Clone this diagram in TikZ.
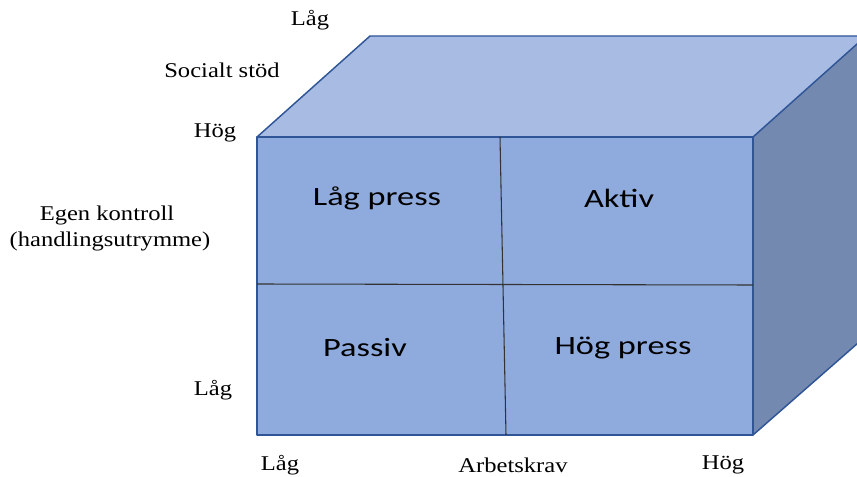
\documentclass[tikz,border=0pt]{standalone}
\usepackage{fontspec}
\setmainfont{Liberation Serif}[FakeStretch=1.17]
\newfontfamily\boxfont{Carlito}[FakeStretch=1.3]
\usepackage{xcolor}
\usepackage{tikz}
\usetikzlibrary{calc}

\definecolor{frontblue}{HTML}{8FAADC}
\definecolor{topblue}{HTML}{A7BBE3}
\definecolor{sideblue}{HTML}{7489B0}
\definecolor{edgeblue}{HTML}{2F5597}

\tikzset{
  axislabel/.style={font=\fontsize{15.75}{17}\selectfont, inner sep=0pt},
  celllabel/.style={font=\boxfont\fontsize{19.8}{22}\selectfont, inner sep=0pt},
  cubeedge/.style={draw=edgeblue, line width=1.1pt, line join=round}
}

\begin{document}
\begin{tikzpicture}[x=0.75pt,y=-0.75pt]
\useasboundingbox (0,0) rectangle (857,477);
\clip (0,0) rectangle (857,477);

% Cube faces
\fill[topblue] (257,137) -- (370,36) -- (866,36) -- (753,137) -- cycle;
\fill[sideblue] (753,137) -- (866,36) -- (866,336) -- (753,435) -- cycle;
\fill[frontblue] (257,137) rectangle (753,435);
\draw[cubeedge] (257,137) -- (370,36) -- (866,36);
\draw[cubeedge] (753,137) -- (866,36);
\draw[cubeedge] (753,435) -- (866,336);
\draw[cubeedge] (257,137) rectangle (753,435);

% Quadrant dividers
\draw[black!80, line width=0.8pt] (500,137) -- (506,435);
\draw[black!80, line width=0.8pt] (257,284) -- (753,285);

% Quadrants
\node[celllabel] (lowpress) at (377,198) {Låg press};
\node[celllabel] (active) at (619,198) {Aktiv};
\node[celllabel] (passive) at (365,348) {Passiv};
\node[celllabel] (highpress) at (623,348) {Hög press};

% Social support axis
\node[axislabel] (supportlow) at (310,20) {Låg};
\node[axislabel] (support) at (222,70) {Socialt stöd};
\node[axislabel] (supporthigh) at (215,133) {Hög};

% Control axis
\node[axislabel] (control) at (107,215) {Egen kontroll};
\node[axislabel] (controlsub) at (110,241) {(handlingsutrymme)};
\node[axislabel] (controllow) at (213,390) {Låg};

% Demand axis
\node[axislabel] (demandlow) at (280,465) {Låg};
\node[axislabel] (demand) at (513,465) {Arbetskrav};
\node[axislabel] (demandhigh) at (723,465) {Hög};
\end{tikzpicture}
\end{document}
